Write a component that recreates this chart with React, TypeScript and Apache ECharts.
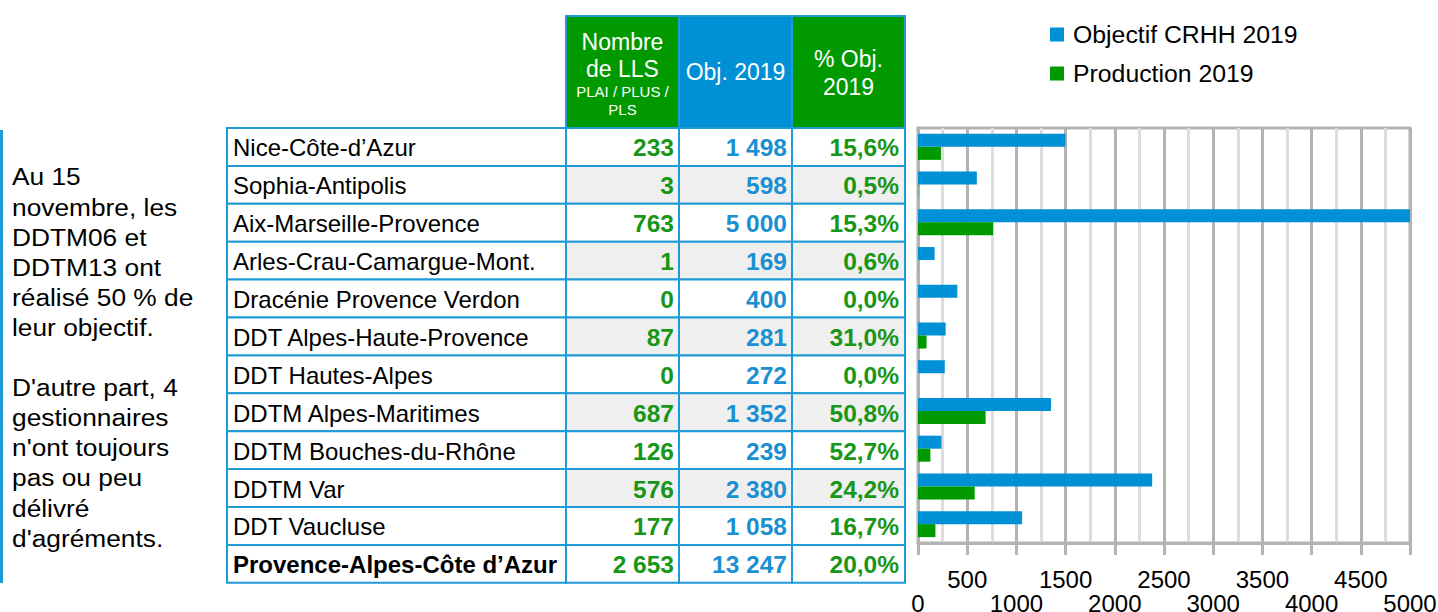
import React, { useEffect, useRef } from 'react';
import * as echarts from 'echarts';

const territories = [
  'Nice-Côte-d’Azur',
  'Sophia-Antipolis',
  'Aix-Marseille-Provence',
  'Arles-Crau-Camargue-Mont.',
  'Dracénie Provence Verdon',
  'DDT Alpes-Haute-Provence',
  'DDT Hautes-Alpes',
  'DDTM Alpes-Maritimes',
  'DDTM Bouches-du-Rhône',
  'DDTM Var',
  'DDT Vaucluse',
];
const production2019 = [233, 3, 763, 1, 0, 87, 0, 687, 126, 576, 177];
const objective2019 = [1498, 598, 5000, 169, 400, 281, 272, 1352, 239, 2380, 1058];
const pctObjective = ['15,6%', '0,5%', '15,3%', '0,6%', '0,0%', '31,0%', '0,0%', '50,8%', '52,7%', '24,2%', '16,7%'];
const totalLabel = 'Provence-Alpes-Côte d’Azur';
const totalProduction = 2653;
const totalObjective = 13247;
const totalPct = '20,0%';
const seriesNames = ['Objectif CRHH 2019', 'Production 2019'];
const noteLines = [
  'Au 15',
  'novembre, les',
  'DDTM06 et',
  'DDTM13 ont',
  'réalisé 50 % de',
  'leur objectif.',
  '',
  "D'autre part, 4",
  'gestionnaires',
  "n'ont toujours",
  'pas ou peu',
  'délivré',
  "d'agréments.",
];

const FONT = '"Liberation Sans", Arial, Helvetica, sans-serif';
const BLUE = '#0090d6';
const GREEN = '#009a00';
const TXT_BLUE = '#1a8fd2';
const TXT_GREEN = '#179617';
const BORDER = '#1e9bd7';
const GRAYFILL = '#efefef';

const fmt = (n: number) => String(n).replace(/\B(?=(\d{3})+(?!\d))/g, ' ');

function txt(x: number, y: number, text: string, font: string, fill: string, align: string, extra: any = {}) {
  return {
    type: 'text',
    x,
    y,
    silent: true,
    ...extra,
    style: {
      text,
      font,
      fill,
      textAlign: align,
      align,
      textVerticalAlign: 'middle',
      verticalAlign: 'middle',
    },
  };
}

function buildGraphics() {
  const els: any[] = [];
  const cols = [227, 566, 679, 792, 905];
  const headTop = 16;
  const bodyTop = 128;
  const rowH = 37.9;

  const headFills = [GREEN, BLUE, GREEN];
  for (let c = 0; c < 3; c++) {
    els.push({
      type: 'rect',
      shape: { x: cols[c + 1], y: headTop, width: cols[c + 2] - cols[c + 1], height: bodyTop - headTop },
      style: { fill: headFills[c], stroke: BORDER, lineWidth: 2 },
      silent: true,
    });
  }
  const hf = (s: number) => `${s}px ${FONT}`;
  const c1 = (cols[1] + cols[2]) / 2;
  const c2 = (cols[2] + cols[3]) / 2;
  const c3 = (cols[3] + cols[4]) / 2;
  els.push(txt(c1, 42, 'Nombre', hf(23), '#fff', 'center'));
  els.push(txt(c1, 69, 'de LLS', hf(23), '#fff', 'center'));
  els.push(txt(c1, 91, 'PLAI / PLUS /', hf(15), '#fff', 'center'));
  els.push(txt(c1, 109, 'PLS', hf(15), '#fff', 'center'));
  els.push(txt(c2, 72, 'Obj. 2019', hf(23), '#fff', 'center'));
  els.push(txt(c3, 59, '% Obj.', hf(23), '#fff', 'center'));
  els.push(txt(c3, 87, '2019', hf(23), '#fff', 'center'));

  const rows = territories.map((t, i) => ({
    name: t,
    prod: fmt(production2019[i]),
    obj: fmt(objective2019[i]),
    pct: pctObjective[i],
    bold: false,
    shade: i % 2 === 1,
  }));
  rows.push({ name: totalLabel, prod: fmt(totalProduction), obj: fmt(totalObjective), pct: totalPct, bold: true, shade: false });

  rows.forEach((r, i) => {
    const y = bodyTop + i * rowH;
    for (let c = 0; c < 4; c++) {
      els.push({
        type: 'rect',
        shape: { x: cols[c], y, width: cols[c + 1] - cols[c], height: rowH },
        style: { fill: r.shade && c > 0 ? GRAYFILL : '#fff', stroke: BORDER, lineWidth: 2 },
        silent: true,
      });
    }
    const cy = y + rowH / 2 + 1;
    els.push(txt(233, cy, r.name, `${r.bold ? 'bold ' : ''}24px ${FONT}`, '#000', 'left'));
    els.push(txt(cols[2] - 5, cy, r.prod, `bold 24.5px ${FONT}`, TXT_GREEN, 'right'));
    els.push(txt(cols[3] - 5, cy, r.obj, `bold 24.5px ${FONT}`, TXT_BLUE, 'right'));
    els.push(txt(cols[4] - 6, cy, r.pct, `bold 24.5px ${FONT}`, TXT_GREEN, 'right'));
  });

  els.push({
    type: 'rect',
    shape: { x: 0, y: 130, width: 3, height: 453 },
    style: { fill: BORDER },
    silent: true,
  });
  noteLines.forEach((l, i) => {
    if (!l) return;
    els.push(txt(12, 177 + i * 30.1, l, `23.5px ${FONT}`, '#000', 'left', { scaleX: 1.12 }));
  });
  return els;
}

export default function App() {
  const ref = useRef<HTMLDivElement>(null);
  useEffect(() => {
    if (!ref.current) return;
    const chart = echarts.init(ref.current, undefined, { renderer: 'svg' });
    const axisGray = '#b3b3b3';
    chart.setOption({
      animation: false,
      backgroundColor: '#ffffff',
      textStyle: { fontFamily: FONT },
      legend: {
        left: 1050,
        top: 22,
        padding: 0,
        orient: 'vertical',
        icon: 'rect',
        itemWidth: 14,
        itemHeight: 14,
        itemGap: 14,
        data: seriesNames,
        textStyle: { fontSize: 24.8, color: '#000', fontFamily: FONT, lineHeight: 24, padding: [0, 0, 0, 4] },
      },
      grid: {
        left: 918,
        right: 28,
        top: 128,
        bottom: 69,
        show: true,
        borderColor: axisGray,
        borderWidth: 3,
        backgroundColor: 'transparent',
        containLabel: false,
        outerBoundsMode: 'none',
      },
      xAxis: [
        {
          type: 'value',
          min: 0,
          max: 5000,
          interval: 500,
          position: 'bottom',
          axisLine: { show: true, lineStyle: { color: axisGray, width: 3 } },
          axisTick: { show: true, length: 12, lineStyle: { color: axisGray, width: 3 } },
          splitLine: { show: true, lineStyle: { color: axisGray, width: 3 } },
          minorTick: { show: false, splitNumber: 2 },
          minorSplitLine: { show: true, lineStyle: { color: '#dddddd', width: 3 } },
          axisLabel: {
            show: true,
            margin: 24,
            fontSize: 24,
            color: '#000',
            fontFamily: FONT,
            showMinLabel: true,
            showMaxLabel: true,
            formatter: (v: number) => (v % 1000 === 500 ? String(v) : ''),
          },
        },
        {
          type: 'value',
          min: 0,
          max: 5000,
          interval: 500,
          position: 'bottom',
          axisLine: { show: false },
          axisTick: { show: false },
          splitLine: { show: false },
          axisLabel: {
            show: true,
            margin: 48,
            fontSize: 24,
            color: '#000',
            fontFamily: FONT,
            showMinLabel: true,
            showMaxLabel: true,
            formatter: (v: number) => (v % 1000 === 0 ? String(v) : ''),
          },
        },
      ],
      yAxis: {
        type: 'category',
        data: territories,
        inverse: true,
        axisLine: { show: true, lineStyle: { color: axisGray, width: 3 } },
        axisTick: { show: false },
        axisLabel: { show: false },
        splitLine: { show: false },
      },
      series: [
        {
          name: seriesNames[0],
          type: 'bar',
          xAxisIndex: 0,
          data: objective2019,
          barWidth: 13,
          barGap: '0%',
          itemStyle: { color: BLUE },
        },
        {
          name: seriesNames[1],
          type: 'bar',
          xAxisIndex: 0,
          data: production2019,
          barWidth: 13,
          barGap: '0%',
          itemStyle: { color: GREEN },
        },
      ],
      graphic: buildGraphics(),
    });
    return () => chart.dispose();
  }, []);
  return <div ref={ref} style={{ position: 'fixed', left: 0, top: 0, width: 1438, height: 612 }} />;
}
